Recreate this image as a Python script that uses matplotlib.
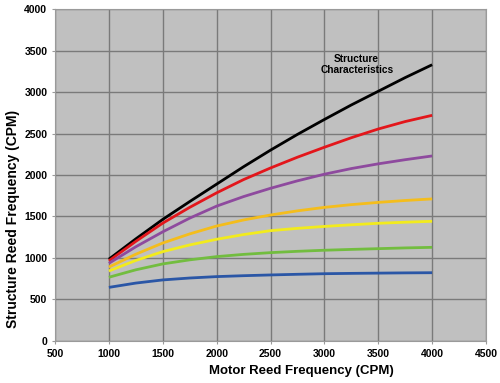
import matplotlib.pyplot as plt

plt.rcParams['font.family'] = ['Liberation Sans', 'DejaVu Sans']

# 모터 리드 주파수 (CPM)
motor_cpm = [1000, 1250, 1500, 1750, 2000, 2250, 2500, 2750, 3000, 3250, 3500, 3750, 4000]

# 구조물 리드 주파수 곡선 (위에서 아래 순서)
black_cpm = [985, 1230, 1465, 1680, 1890, 2100, 2300, 2490, 2670, 2845, 3010, 3175, 3330]
red_cpm = [965, 1200, 1420, 1610, 1785, 1945, 2085, 2215, 2335, 2450, 2555, 2645, 2720]
purple_cpm = [935, 1135, 1315, 1480, 1625, 1740, 1840, 1930, 2010, 2078, 2135, 2185, 2230]
orange_cpm = [890, 1045, 1180, 1290, 1385, 1458, 1518, 1568, 1610, 1643, 1670, 1693, 1712]
yellow_cpm = [843, 970, 1076, 1157, 1225, 1282, 1329, 1357, 1380, 1400, 1418, 1431, 1442]
green_cpm = [767, 857, 928, 977, 1016, 1043, 1064, 1080, 1093, 1103, 1112, 1121, 1128]
blue_cpm = [645, 697, 735, 758, 775, 786, 795, 803, 810, 814, 817, 820, 822]

series = [
    (black_cpm, '#000000'),
    (red_cpm, '#e3161b'),
    (purple_cpm, '#8e4a9e'),
    (orange_cpm, '#f4bd1c'),
    (yellow_cpm, '#f2eb1d'),
    (green_cpm, '#72bd3f'),
    (blue_cpm, '#2a56a6'),
]

fig = plt.figure(figsize=(5, 3.83), dpi=100)
ax = fig.add_axes([0.11, 0.11, 0.862, 0.866])
ax.set_facecolor('#c0c0c0')

for vals, color in series:
    ax.plot(motor_cpm, vals, color=color, lw=2, solid_capstyle='butt')

ax.set_xlim(500, 4500)
ax.set_ylim(0, 4000)
ax.set_xticks(range(500, 4501, 500))
ax.set_yticks(range(0, 4001, 500))
ax.grid(True, color='#7a7a7a', lw=1)
ax.set_axisbelow(True)
for s in ax.spines.values():
    s.set_color('#9a9a9a')
ax.tick_params(length=2, color='#9a9a9a', labelsize=7.5)
for lbl in ax.get_xticklabels() + ax.get_yticklabels():
    lbl.set_fontweight('bold')

# 축 제목 위치는 원본처럼 약간 치우치게
ax.set_xlabel('Motor Reed Frequency (CPM)', fontsize=9.5, fontweight='bold')
ax.set_ylabel('Structure Reed Frequency (CPM)', fontsize=10, fontweight='bold')
ax.xaxis.set_label_coords(0.571, -0.072)
ax.yaxis.set_label_coords(-0.082, 0.367)

ax.text(3300, 3330, 'Structure\nCharacteristics', ha='center', va='center',
        fontsize=7.3, fontweight='bold', linespacing=1.1)

fig.savefig('out.png', dpi=100)
